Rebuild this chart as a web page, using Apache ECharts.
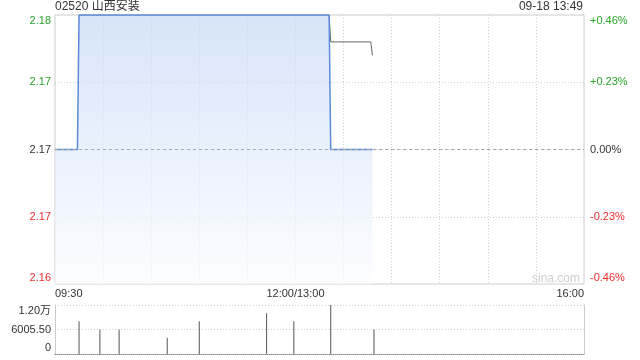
<!DOCTYPE html>
<html>
<head>
<meta charset="utf-8">
<script src="https://cdn.jsdelivr.net/npm/echarts@6/dist/echarts.min.js"></script>
<style>html,body{margin:0;padding:0;background:#fff}#c{width:640px;height:360px}</style>
</head>
<body>
<div id="c"></div>
<script>
// ---- data ----
var stockTitle = '02520 山西安装';
var stampText = '09-18 13:49';
var prevClose = 2.17;
var priceTimes = ['09:30', '09:44', '09:45', '13:21', '13:22', '13:48'];
var priceValues = [2.17, 2.17, 2.18, 2.18, 2.17, 2.17];
var avgTimes = ['09:45', '13:21', '13:22', '13:47', '13:48'];
var avgValues = [2.18, 2.18, 2.178, 2.178, 2.177];
var volTimes = ['09:45', '09:58', '10:10', '10:40', '11:00', '11:42', '11:59', '13:22', '13:49'];
var volValues = [8000, 6000, 6000, 4000, 8000, 10000, 8000, 12011, 6000];
var xTickTimes = [0, 150, 330];
var xTickLabels = ['09:30', '12:00/13:00', '16:00'];
var priceTickLabels = ['2.16', '2.17', '2.17', '2.17', '2.18'];
var pctTickLabels = ['-0.46%', '-0.23%', '0.00%', '+0.23%', '+0.46%'];
var volTickLabels = ['0', '6005.50', '1.20万'];

var FONT = '"Liberation Sans", Arial, "Noto Sans CJK SC", sans-serif';
var GREEN = '#2aa52a', RED = '#ee2e2e', DARK = '#333';

function toMin(t) {
  var p = t.split(':');
  var m = (+p[0]) * 60 + (+p[1]) - 570;
  if (m > 150) m -= 60;
  return m;
}
function pairs(times, vals) {
  return times.map(function (t, i) { return [toMin(t), vals[i]]; });
}
function colorKey(v) {
  var d = parseFloat(v) - prevClose;
  return d > 1e-6 ? 'g' : (d < -1e-6 ? 'r' : 'k');
}
function edgeFormatter(labels) {
  return function (v, i) {
    var c = colorKey(v);
    var pos = i === 0 ? 'B' : (i === labels.length - 1 ? 'T' : 'M');
    return '{' + c + pos + '|' + labels[i] + '}';
  };
}
function richSet() {
  var cols = { g: GREEN, r: RED, k: DARK };
  var pads = { T: [12, 0, 0, 0], B: [0, 0, 12, 0], M: [0, 0, 0, 0] };
  var out = {};
  Object.keys(cols).forEach(function (c) {
    Object.keys(pads).forEach(function (p) {
      out[c + p] = { color: cols[c], padding: pads[p], fontSize: 11, fontFamily: FONT };
    });
  });
  return out;
}

var chart = echarts.init(document.getElementById('c'), null, { renderer: 'canvas' });
var dotted = { color: '#d0d0d0', type: [1, 2], width: 1 };

chart.setOption({
  animation: false,
  textStyle: { fontFamily: FONT },
  title: [
    { text: stockTitle, left: 55, top: 1, padding: 0,
      textStyle: { fontSize: 12, fontWeight: 'normal', color: DARK, fontFamily: FONT } },
    { text: stampText, right: 57, top: 1, padding: 0,
      textStyle: { fontSize: 12, fontWeight: 'normal', color: DARK, fontFamily: FONT } }
  ],
  graphic: [{
    type: 'text', left: 532, top: 273, silent: true,
    style: { text: 'sina.com', fill: '#cfcfcf', fontSize: 12, fontFamily: FONT }
  }],
  grid: [
    { left: 55, top: 15, width: 529, height: 269, show: true, borderColor: '#cccccc', borderWidth: 1, backgroundColor: 'transparent' },
    { left: 55, top: 305, width: 529, height: 49, show: false }
  ],
  xAxis: [
    {
      type: 'value', gridIndex: 0, min: 0, max: 330, interval: 30,
      axisLine: { show: false }, axisTick: { show: false },
      splitLine: { show: true, showMinLine: false, showMaxLine: false, lineStyle: dotted },
      axisLabel: {
        margin: 4, fontSize: 11, color: DARK, fontFamily: FONT,
        alignMinLabel: 'left', alignMaxLabel: 'right',
        formatter: function (v) {
          var k = xTickTimes.indexOf(Math.round(v));
          return k >= 0 ? xTickLabels[k] : '';
        }
      }
    },
    {
      type: 'value', gridIndex: 1, min: 0, max: 330, interval: 30,
      axisLine: { show: true, onZero: false, lineStyle: { color: '#888', type: [1, 1], width: 1 } },
      axisTick: { show: false }, axisLabel: { show: false }, splitLine: { show: false }
    }
  ],
  yAxis: [
    {
      type: 'value', gridIndex: 0, min: 2.16, max: 2.18, interval: 0.005,
      axisLine: { show: false }, axisTick: { show: false },
      splitLine: { show: true, showMinLine: false, showMaxLine: false, lineStyle: dotted },
      axisLabel: {
        margin: 4, fontSize: 11, fontFamily: FONT,
        formatter: edgeFormatter(priceTickLabels),
        rich: richSet()
      }
    },
    {
      type: 'value', gridIndex: 0, position: 'right', min: 2.16, max: 2.18, interval: 0.005,
      axisLine: { show: false }, axisTick: { show: false }, splitLine: { show: false },
      axisLabel: {
        margin: 6, fontSize: 11, fontFamily: FONT,
        formatter: edgeFormatter(pctTickLabels),
        rich: richSet()
      }
    },
    {
      type: 'value', gridIndex: 1, min: 0, max: 12011, interval: 6005.5,
      axisLine: { show: true, lineStyle: { color: '#cccccc', width: 1 } },
      axisTick: { show: false },
      splitLine: { show: true, showMinLine: false, lineStyle: dotted },
      axisLabel: {
        margin: 4, fontSize: 11, color: DARK, fontFamily: FONT,
        formatter: function (v, i) {
          if (i === 0) return '{b|' + volTickLabels[0] + '}';
          if (i === volTickLabels.length - 1) return '{t|' + volTickLabels[i] + '}';
          return volTickLabels[i];
        },
        rich: {
          t: { padding: [12, 0, 0, 0], fontSize: 11, color: DARK, fontFamily: FONT },
          b: { padding: [0, 0, 12, 0], fontSize: 11, color: DARK, fontFamily: FONT }
        }
      }
    },
    {
      type: 'value', gridIndex: 1, position: 'right', min: 0, max: 12011,
      axisLine: { show: true, lineStyle: { color: '#cccccc', width: 1 } },
      axisTick: { show: false }, axisLabel: { show: false }, splitLine: { show: false }
    }
  ],
  series: [
    {
      type: 'line', name: 'avg', xAxisIndex: 0, yAxisIndex: 0,
      data: pairs(avgTimes, avgValues), symbol: 'none', z: 2,
      lineStyle: { color: '#666', width: 1 }
    },
    {
      type: 'line', name: 'price', xAxisIndex: 0, yAxisIndex: 0,
      data: pairs(priceTimes, priceValues), symbol: 'none', z: 3,
      lineStyle: { color: '#5b8ad8', width: 1.5 },
      areaStyle: {
        origin: 'start',
        color: new echarts.graphic.LinearGradient(0, 0, 0, 1, [
          { offset: 0, color: '#c5d9f7' },
          { offset: 1, color: '#fbfcff' }
        ])
      },
      markLine: {
        silent: true, symbol: ['none', 'none'], label: { show: false },
        lineStyle: { color: '#aaaaaa', type: [3, 3], width: 1 },
        data: [{ yAxis: prevClose }]
      }
    },
    {
      type: 'bar', name: 'vol', xAxisIndex: 1, yAxisIndex: 2,
      data: pairs(volTimes, volValues), barWidth: 1,
      itemStyle: { color: '#555' }
    }
  ]
});
</script>
</body>
</html>
